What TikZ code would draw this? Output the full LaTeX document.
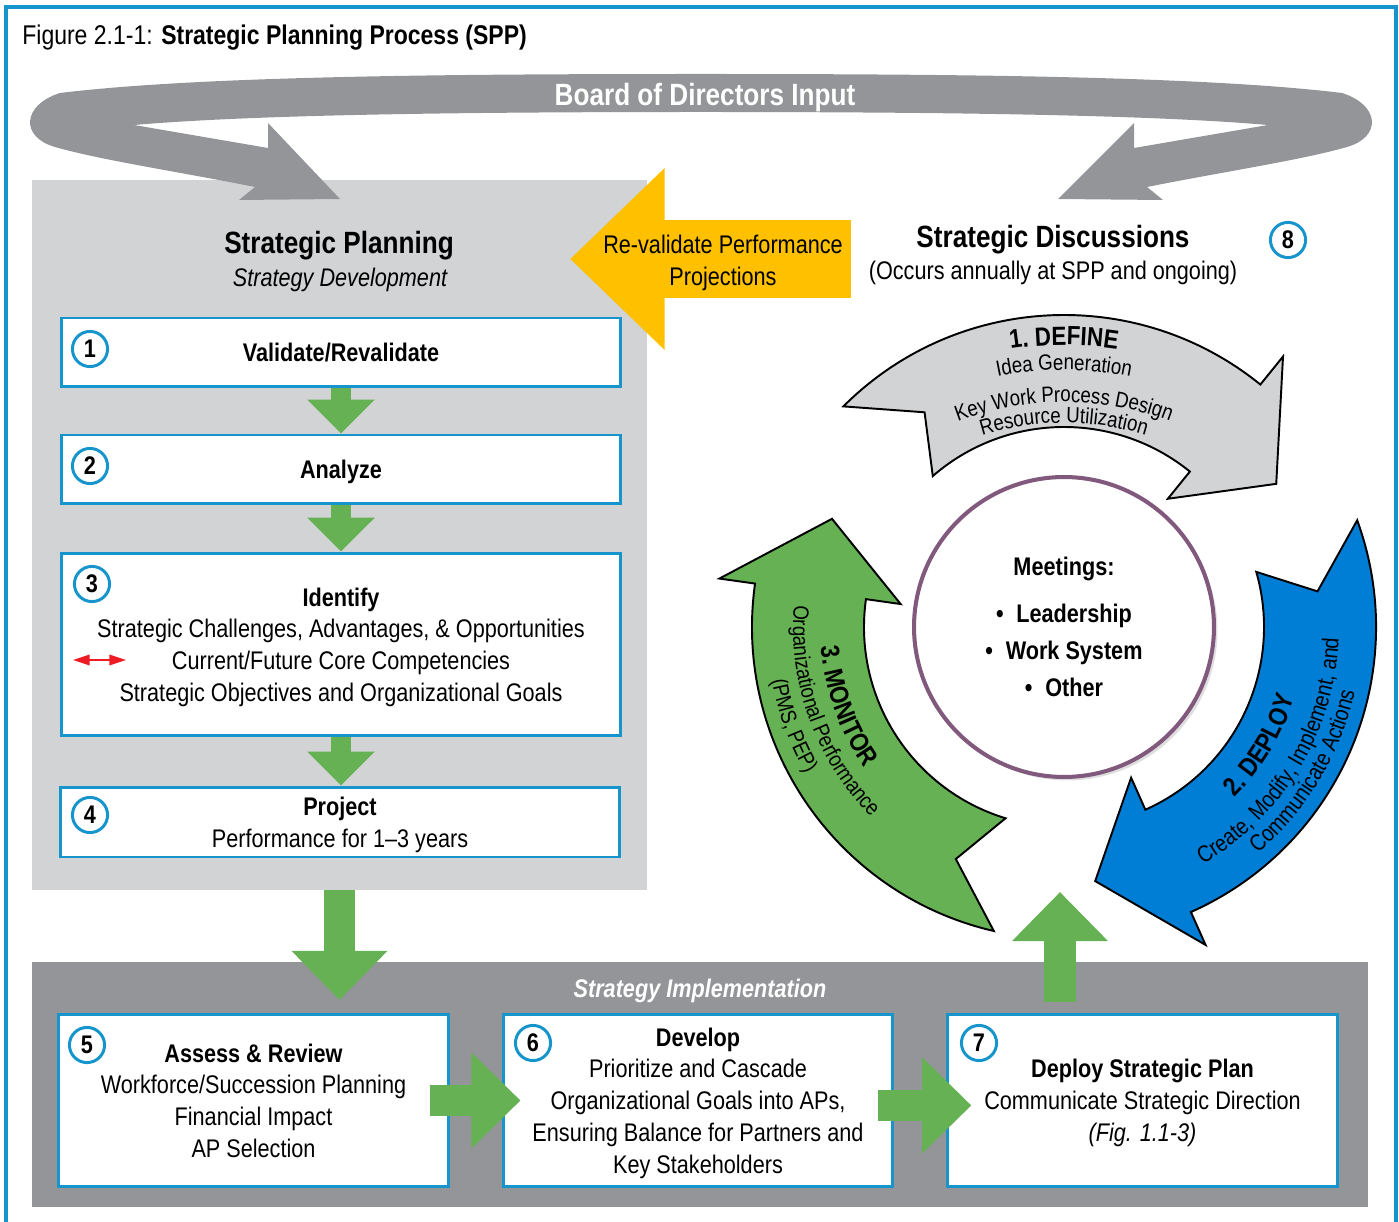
\documentclass[tikz,border=0pt]{standalone}
\usepackage{fontspec}
\setmainfont[FakeStretch=0.85]{Liberation Sans}
\usepackage{tikz}
\usetikzlibrary{arrows.meta, decorations.text, shadows}

\definecolor{frameblue}{RGB}{22,148,204}
\definecolor{plangray}{RGB}{209,211,212}
\definecolor{implgray}{RGB}{147,149,152}
\definecolor{flowgreen}{RGB}{101,177,83}
\definecolor{revalyellow}{RGB}{255,192,0}
\definecolor{deployblue}{RGB}{0,125,213}
\definecolor{meetpurple}{RGB}{128,89,124}
\definecolor{competred}{RGB}{237,28,36}

\newcommand{\BodyFont}{\fontsize{14.5}{18.1}\selectfont}
\newcommand{\HeadFont}{\fontsize{17.5}{21}\selectfont\bfseries}
\newcommand{\ArcBold}{\fontsize{15}{18}\selectfont\bfseries}
\newcommand{\ArcText}{\fontsize{12.5}{15}\selectfont}
\newcommand{\ArcWide}{\fontsize{13.2}{15}\selectfont}

\tikzset{
  stepbox/.style={draw=frameblue, line width=1.7pt, fill=white, align=center, font=\BodyFont, inner sep=0pt, text depth=0pt},
  numring/.style={circle, draw=frameblue, line width=1.7pt, fill=white, minimum size=20pt, inner sep=0pt, font=\BodyFont\bfseries},
  flowdown/.style={draw=flowgreen, line width=11.3pt, -{Triangle[length=19.3pt, width=37.4pt]}},
  bigflow/.style={draw=flowgreen, line width=18pt, -{Triangle[length=28pt, width=53pt]}},
  arctext/.style={decorate, decoration={text along path, text align=center, text={#1}}}
}

\begin{document}
\begin{tikzpicture}[x=0.02cm, y=-0.02cm]
\useasboundingbox (0,0) rectangle (1399,1222);

% outer frame and title
\draw[frameblue, line width=2.2pt] (6,1240) |- (1396,7) -- (1396,1240);
\node[anchor=base west, inner sep=0pt, font=\fontsize{15.4}{18}\selectfont] (title) at (22,45)
  {Figure 2.1-1: \textbf{Strategic Planning Process (SPP)}};

% grey backgrounds
\node[fill=plangray, minimum width=12.3cm, minimum height=14.2cm, inner sep=0pt] (planarea) at (339.5,535) {};
\node[fill=implgray, minimum width=26.72cm, minimum height=4.9cm, inner sep=0pt] (implarea) at (700,1084.5) {};

% board of directors band
\fill[implgray] (701,112)
  .. controls (450,112) and (250,115) .. (134,125)
  -- (268,148) -- (268,123) -- (340,199) -- (239,200) -- (255,187)
  .. controls (180,172) and (100,160) .. (55,147)
  .. controls (20,137) and (22,105) .. (60,93)
  .. controls (200,76) and (450,74) .. (701,74)
  .. controls (952,74) and (1202,76) .. (1342,93)
  .. controls (1380,105) and (1382,137) .. (1347,147)
  .. controls (1302,160) and (1222,172) .. (1147,187)
  -- (1163,200) -- (1058,199) -- (1134,123) -- (1134,148) -- (1268,125)
  .. controls (1152,115) and (952,112) .. (701,112) -- cycle;
\node[text=white, font=\HeadFont] (board) at (705,98) {Board of Directors Input};

% re-validate arrow
\coordinate (discussfrom) at (851,259);
\coordinate (planto) at (570,259);
\draw[revalyellow, line width=44.2pt, -{Triangle[length=53.9pt, width=100.3pt]}] (discussfrom) -- (planto);
\node[font=\BodyFont, align=center] (revalidate) at (723,263) {Re-validate Performance\\Projections};

% headings
\node[font=\HeadFont] (plantitle) at (339,246) {Strategic Planning};
\node[font=\BodyFont\itshape] (plansub) at (340,280) {Strategy Development};
\node[font=\HeadFont] (discuss) at (1053,240) {Strategic Discussions};
\node[font=\BodyFont] (discusssub) at (1053,273) {(Occurs annually at SPP and ongoing)};
\node[numring] (n8) at (1288,240) {8};

% planning steps
\node[stepbox, minimum width=11.2cm, minimum height=1.38cm] (validate) at (341,352.5) {\textbf{Validate/Revalidate}};
\node[stepbox, minimum width=11.2cm, minimum height=1.38cm] (analyze) at (341,469.5) {\textbf{Analyze}};
\node[stepbox, minimum width=11.2cm, minimum height=3.66cm] (identify) at (341,644.5)
  {\textbf{Identify}\\Strategic Challenges, Advantages, \& Opportunities\\Current/Future Core Competencies\\Strategic Objectives and Organizational Goals};
\node[stepbox, minimum width=11.2cm, minimum height=1.4cm] (project) at (340,822)
  {\textbf{Project}\\Performance for 1--3 years};

\foreach \n/\x/\y in {1/90/349, 2/90/466, 3/92/584, 4/90/815}
  \node[numring] (n\n) at (\x,\y) {\n};

\draw[flowdown] (validate) -- (analyze);
\draw[flowdown] (analyze) -- (identify);
\draw[flowdown] (identify.south) -- (identify.south |- project.north);

% core competencies marker
\coordinate (compleft) at (73,660);
\coordinate (compright) at (126,660);
\draw[competred, line width=1.1pt, {Triangle[length=9.5pt, width=6pt]}-{Triangle[length=9.5pt, width=6pt]}] (compleft) -- (compright);

% into implementation
\coordinate (implin) at (339.5,1000);
\draw[bigflow] (planarea.south) -- (implin);
\node[text=white, font=\BodyFont\bfseries\itshape] (impltitle) at (700,991) {Strategy Implementation};

% implementation steps
\node[stepbox, minimum width=7.82cm, minimum height=3.46cm] (assess) at (253.5,1100.5)
  {\textbf{Assess \& Review}\\Workforce/Succession Planning\\Financial Impact\\AP Selection};
\node[stepbox, minimum width=7.8cm, minimum height=3.46cm] (develop) at (698,1100.5)
  {\textbf{Develop}\\Prioritize and Cascade\\Organizational Goals into APs,\\Ensuring Balance for Partners and\\Key Stakeholders};
\node[stepbox, minimum width=7.82cm, minimum height=3.46cm] (deployplan) at (1142.5,1100.5)
  {\textbf{Deploy Strategic Plan}\\Communicate Strategic Direction\\\textit{(Fig. 1.1-3)}};

\foreach \n/\x/\y in {5/87/1045, 6/533/1043, 7/979/1043}
  \node[numring] (n\n) at (\x,\y) {\n};

\draw[bigflow] ([xshift=-11.9pt]assess.east) -- ([xshift=10.8pt]develop.west);
\draw[bigflow] ([xshift=-9.1pt, yshift=-2.8pt]develop.east) -- ([xshift=14.7pt, yshift=-2.8pt]deployplan.west);

% back into the cycle
\coordinate (cycleout) at (1060,1002);
\coordinate (cyclein) at (1060,892);
\draw[bigflow] (cycleout) -- (cyclein);

% define / deploy / monitor cycle
\begin{scope}[shift={(1064,627)}]
\foreach \tail/\head/\arcfill in {-133/-51/plangray, -18/66/deployblue, 105/188/flowgreen}
  \filldraw[fill=\arcfill, draw=black, line width=1.1pt]
    (\tail-2:312) arc[start angle=\tail-2, end angle=\head, radius=312]
    -- (\head:348) -- (\head+17:256) -- (\head:165) -- (\head:200)
    arc[start angle=\head, end angle=\tail+2, radius=200]
    -- (\tail+10:256) -- cycle;

\path[arctext={|\ArcBold|2. DEPLOY}] (91:241) arc[start angle=91, end angle=-29, radius=241];
\path[arctext={|\ArcWide|Create, Modify, Implement, and}] (91:275) arc[start angle=91, end angle=-29, radius=275];
\path[arctext={|\ArcWide|Communicate Actions}] (91:298) arc[start angle=91, end angle=-29, radius=298];

\path[arctext={|\ArcBold|3. MONITOR}] (220:244) arc[start angle=220, end angle=100, radius=244];
\path[arctext={|\ArcText|Organizational Performance}] (220:271) arc[start angle=220, end angle=100, radius=271];
\path[arctext={|\ArcText|(PMS, PEP)}] (220:297) arc[start angle=220, end angle=100, radius=297];
\end{scope}

% define labels sit on flatter arcs
\begin{scope}[shift={(1064,700)}]
\path[arctext={|\ArcBold|1. DEFINE}] (-140:355) arc[start angle=-140, end angle=-40, radius=355];
\path[arctext={|\ArcText|Idea Generation}] (-140:330) arc[start angle=-140, end angle=-40, radius=330];
\path[arctext={|\ArcText|Key Work Process Design}] (-140:298) arc[start angle=-140, end angle=-40, radius=298];
\path[arctext={|\ArcText|Resource Utilization}] (-140:277) arc[start angle=-140, end angle=-40, radius=277];
\end{scope}

% meetings hub
\node[circle, draw=meetpurple, line width=2.3pt, fill=white, minimum size=6cm, align=center,
  drop shadow={opacity=0.25, shadow xshift=2pt, shadow yshift=-2pt},
  font=\fontsize{14.5}{21}\selectfont\bfseries] (meetings) at (1064,627)
  {Meetings:\\[6pt]\textbullet\enspace Leadership\\\textbullet\enspace Work System\\\textbullet\enspace Other};

\end{tikzpicture}
\end{document}
